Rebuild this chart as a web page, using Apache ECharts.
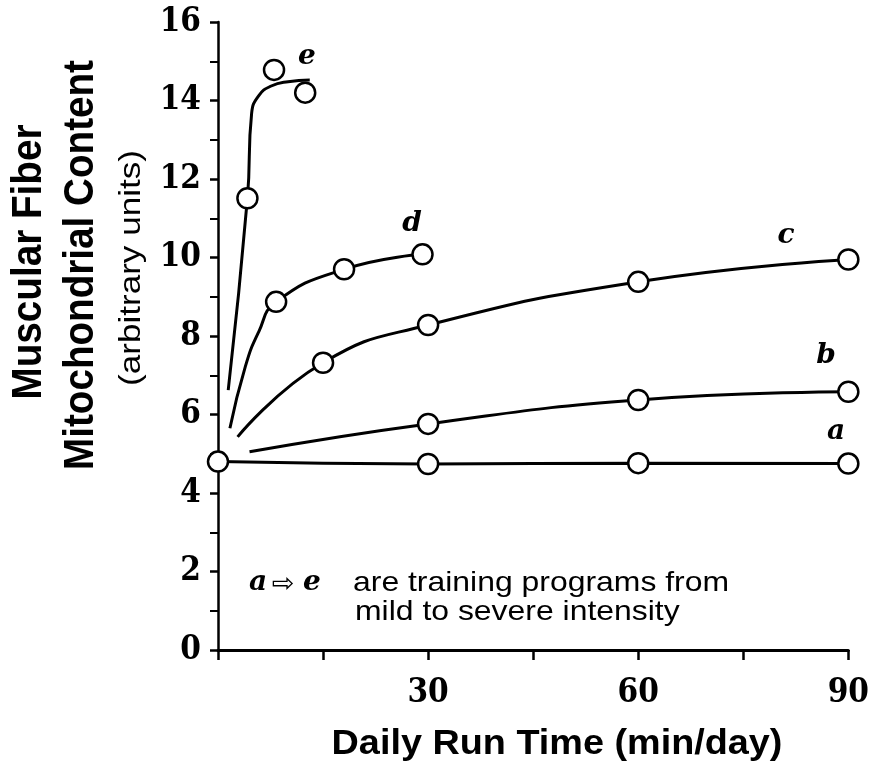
<!DOCTYPE html>
<html><head><meta charset="utf-8">
<script src="https://cdn.jsdelivr.net/npm/echarts@6/dist/echarts.min.js"></script>
<style>html,body{margin:0;padding:0;background:#fff}#c{width:872px;height:766px}</style>
</head><body><div id="c"></div>
<script>
// ---- data ----
const xLabelValues = [30, 60, 90];
const aPoints = [[0, 4.8], [30, 4.74], [60, 4.76], [90, 4.75]];
const bCurve  = [[4.5, 5.05], [30, 5.76], [60, 6.37], [90, 6.58]];
const bPoints = [[30, 5.76], [60, 6.37], [90, 6.58]];
const cCurve  = [[2.8, 5.43], [15, 7.32], [30, 8.28], [60, 9.38], [90, 9.95]];
const cPoints = [[15, 7.32], [30, 8.28], [60, 9.38], [90, 9.95]];
const dCurve  = [[1.7, 5.65], [3.9, 7.22], [5.8, 8.1], [8.3, 8.87], [18, 9.70], [29.2, 10.08]];
const dPoints = [[8.3, 8.87], [18, 9.70], [29.2, 10.08]];
const eCurve  = [[1.46, 6.62], [4.2, 11.51], [4.8, 13.67], [5.8, 14.12], [7.6, 14.37], [10, 14.48], [13.1, 14.52]];
const ePoints = [[4.2, 11.51], [8, 14.78], [12.45, 14.2]];

const chart = echarts.init(document.getElementById('c'), null, {renderer: 'canvas'});

function curve(data) {
  return {type: 'line', data: data, showSymbol: false, symbol: 'none', smooth: 0.5,
    lineStyle: {color: '#000', width: 3}, silent: true, z: 2};
}
function pts(data) {
  return {type: 'scatter', data: data, symbol: 'circle', symbolSize: 20,
    itemStyle: {color: '#fff', borderColor: '#000', borderWidth: 2.5, opacity: 1}, silent: true, z: 3};
}
function txt(text, x, y, font, opts) {
  opts = opts || {};
  return Object.assign({type: 'text', x: x, y: y, silent: true,
    style: {text: text, font: font, fill: '#000', align: opts.align || 'center', verticalAlign: 'middle',
      textAlign: opts.align || 'center', textVerticalAlign: 'middle'}}, opts.t || {});
}
const serifIt = 'italic bold 28px "DejaVu Serif"';
const sansB = '"Liberation Sans", Arial, sans-serif';
const tickFont = '"DejaVu Serif Condensed", "DejaVu Serif", serif';

chart.setOption({
  animation: false,
  backgroundColor: '#fff',
  grid: {left: 218, right: 20, top: 22, bottom: 116, containLabel: false},
  xAxis: {
    type: 'value', min: 0, max: 90, interval: 15,
    axisLine: {show: true, onZero: false, lineStyle: {color: '#000', width: 3}},
    axisTick: {show: true, length: 10, lineStyle: {color: '#000', width: 2.5}},
    splitLine: {show: false},
    axisLabel: {
      margin: 27, color: '#000', fontSize: 33, fontWeight: 'bold', fontFamily: tickFont,
      formatter: v => xLabelValues.indexOf(v) >= 0 ? String(v) : ''
    }
  },
  yAxis: {
    type: 'value', min: 0, max: 16, interval: 2,
    axisLine: {show: true, onZero: false, lineStyle: {color: '#000', width: 2.5}},
    axisTick: {show: true, length: 8, lineStyle: {color: '#000', width: 2.5}},
    minorTick: {show: true, splitNumber: 2, length: 8, lineStyle: {color: '#000', width: 2}},
    splitLine: {show: false}, minorSplitLine: {show: false},
    axisLabel: {margin: 17, color: '#000', fontSize: 33, fontWeight: 'bold', fontFamily: tickFont}
  },
  series: [
    curve(aPoints), curve(bCurve), curve(cCurve), curve(dCurve), curve(eCurve),
    pts(aPoints), pts(bPoints), pts(cPoints), pts(dPoints), pts(ePoints)
  ],
  graphic: [
    // y-axis title
    txt('Muscular Fiber', 29, 262, 'bold 42px ' + sansB, {t: {rotation: Math.PI / 2, scaleX: 0.92}}),
    txt('Mitochondrial Content', 81, 265, 'bold 42px ' + sansB, {t: {rotation: Math.PI / 2, scaleX: 0.92}}),
    txt('(arbitrary units)', 132, 268, '30px ' + sansB, {t: {rotation: Math.PI / 2, scaleX: 1.17}}),
    // x-axis title
    txt('Daily Run Time (min/day)', 557, 744, 'bold 35px ' + sansB, {t: {scaleX: 1.08}}),
    // series labels
    txt('e', 307, 57, serifIt), txt('d', 412, 224, serifIt), txt('c', 786, 236, serifIt),
    txt('b', 826, 356, serifIt), txt('a', 836, 432, serifIt),
    // note
    txt('a', 258, 583, serifIt), txt('\u21E8', 283, 585, '27px "DejaVu Sans"'), txt('e', 312, 583, serifIt),
    txt('are training programs from', 353, 583, '28px ' + sansB, {align: 'left', t: {scaleX: 1.14}}),
    txt('mild to severe intensity', 355, 612, '28px ' + sansB, {align: 'left', t: {scaleX: 1.14}})
  ]
});
</script></body></html>
